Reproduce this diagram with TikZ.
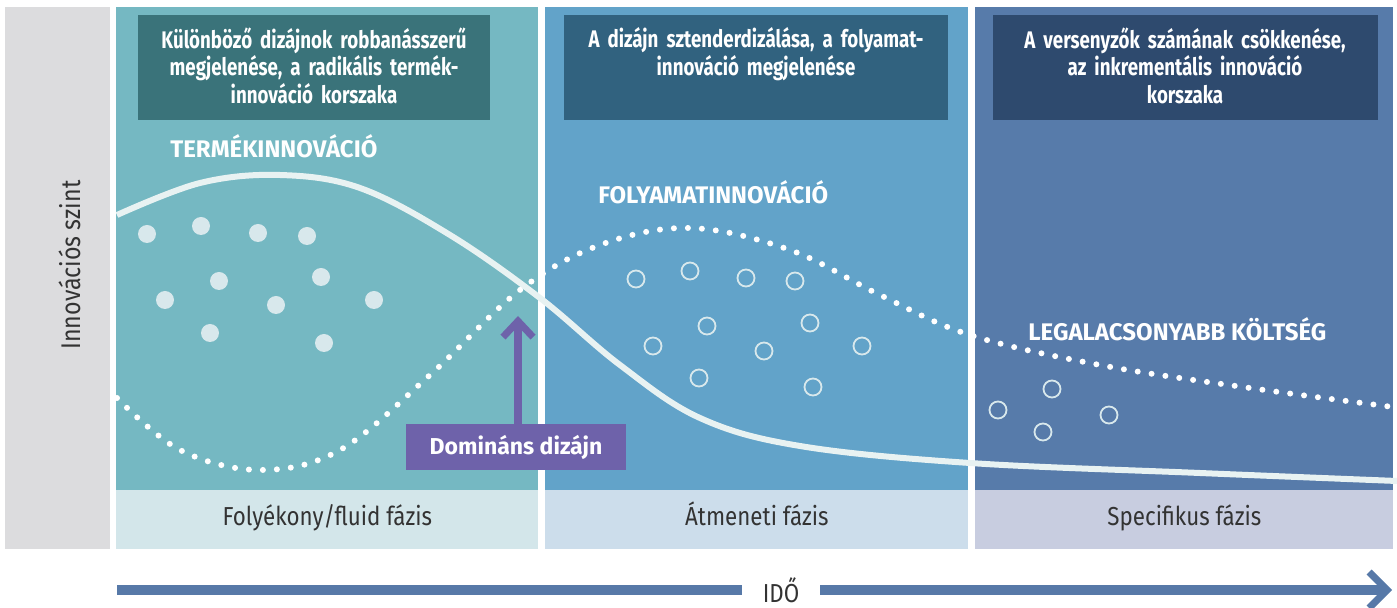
\documentclass[tikz,border=0pt]{standalone}
\usepackage{fontspec}
\setmainfont{Fira Sans}[FakeStretch=0.86]
\newfontfamily\headfont{Fira Sans}[FakeStretch=0.78]
\newfontfamily\capsfont{Fira Sans}
\usetikzlibrary{arrows.meta, positioning}

\definecolor{sidegrey}{HTML}{DCDCDE}
\definecolor{fluidbg}{HTML}{75B8C2}
\definecolor{fluidbar}{HTML}{D3E6EA}
\definecolor{transbg}{HTML}{62A3C9}
\definecolor{transbar}{HTML}{CCDDEB}
\definecolor{specbg}{HTML}{577BAA}
\definecolor{specbar}{HTML}{C8CDE0}
\definecolor{fluidhead}{HTML}{3A737A}
\definecolor{transhead}{HTML}{31627F}
\definecolor{spechead}{HTML}{2E4A6E}
\definecolor{dominant}{HTML}{6E62AA}
\definecolor{timeline}{HTML}{5779A8}
\definecolor{curvewhite}{HTML}{E8F2F2}
\definecolor{dotfill}{HTML}{D8E8EC}
\definecolor{bartext}{HTML}{333333}

\begin{document}
\begin{tikzpicture}[
    x=0.5pt, y=-0.5pt,
    panel/.style = {anchor=north west, inner sep=0pt, minimum height=241.5pt},
    phasebar/.style = {anchor=north west, inner sep=0pt, minimum height=29.5pt,
        text height=9pt, text depth=3pt,
        text=bartext, font=\fontsize{13}{15}\selectfont},
    headbox/.style = {anchor=north west, inner sep=0pt, minimum height=52.5pt,
        text=white, align=center, text depth=0pt,
        font=\headfont\bfseries\fontsize{12}{13.8}\selectfont},
    curveLabel/.style = {text=white, font=\capsfont\bfseries\fontsize{12}{14}\selectfont, inner sep=0pt},
    product/.style = {circle, fill=dotfill, minimum size=9pt, inner sep=0pt},
    process/.style = {circle, draw=dotfill, line width=0.9pt, minimum size=8.5pt, inner sep=0pt},
    timeArrow/.style = {timeline, line width=5pt},
]
\useasboundingbox (0,0) rectangle (1397,608);

% side column
\node(Side)[panel, fill=sidegrey, minimum width=52.5pt, minimum height=271pt] at (5,7) {};
\node(AxisLabel)[rotate=90, font=\fontsize{13.5}{15}\selectfont, text=bartext] at (70,265) {Innovációs szint};

% phase panels
\node(Fluid)[panel, fill=fluidbg, minimum width=211pt] at (116,7) {};
\node(Trans)[panel, fill=transbg, minimum width=211.5pt] at (545,7) {};
\node(Spec)[panel, fill=specbg, minimum width=209pt] at (975,7) {};

\node(FluidBar)[phasebar, fill=fluidbar, minimum width=211pt] at (116,490) {Folyékony/fluid fázis};
\node(TransBar)[phasebar, fill=transbar, minimum width=211.5pt] at (545,490) {Átmeneti fázis};
\node(SpecBar)[phasebar, fill=specbar, minimum width=209pt] at (975,490) {Specifikus fázis};

% headings
\node(FluidHead)[headbox, fill=fluidhead, minimum width=176pt] at (138,15) {};
\node[headbox, anchor=north, text width=172pt, minimum height=0pt] at (314,27)
    {Különböző dizájnok robbanásszerű\\ megjelenése, a radikális termék-\\ innováció korszaka};
\node(TransHead)[headbox, fill=transhead, minimum width=192pt] at (564,15) {};
\node[headbox, anchor=north, text width=188pt, minimum height=0pt] at (756,27)
    {A dizájn sztenderdizálása, a folyamat-\\ innováció megjelenése};
\node(SpecHead)[headbox, fill=spechead, minimum width=192.5pt] at (993,15) {};
\node[headbox, anchor=north, text width=188pt, minimum height=0pt] at (1185,27)
    {A versenyzők számának csökkenése,\\ az inkrementális innováció\\ korszaka};

% product innovation dots
\foreach \px/\py [count=\i] in {147/234, 201/226, 258/233, 307/236, 165/300, 219/281,
    276/305, 321/277, 374/300, 210/333, 324/343}
    \node(prod\i)[product] at (\px,\py) {};

% process innovation circles
\foreach \px/\py [count=\i] in {636/279, 690/271, 746/278, 795/281, 653/346, 707/326,
    764/351, 810/323, 862/346, 699/378, 813/387, 998/410, 1052/389, 1043/432, 1109/415}
    \node(proc\i)[process] at (\px,\py) {};

% curves
\draw[curvewhite, line width=3pt] plot[smooth, tension=0.6] coordinates {
    (117,215) (200,183) (280,175) (360,188) (450,235) (540,298) (620,365)
    (700,418) (800,446) (970,463) (1200,473) (1397,481)};
\draw[white, line width=3pt, line cap=round, dash pattern=on 0pt off 7pt]
    plot[smooth, tension=0.6] coordinates {
    (117,398) (180,450) (260,470) (340,450) (430,375) (520,290) (600,245)
    (690,228) (790,250) (880,295) (970,335) (1100,365) (1250,388) (1393,407)};

\node(TermLabel)[curveLabel, anchor=west] at (170,146) {TERMÉKINNOVÁCIÓ};
\node(ProcLabel)[curveLabel, anchor=west] at (598,192) {FOLYAMATINNOVÁCIÓ};
\node(CostLabel)[curveLabel, anchor=west] at (1028,329) {LEGALACSONYABB KÖLTSÉG};

% dominant design
\node(Dominant)[fill=dominant, text=white, minimum width=110pt, minimum height=23pt,
    font=\capsfont\bfseries\fontsize{11.5}{13}\selectfont, inner sep=0pt] at (516,447) {Domináns dizájn};
\coordinate(Cross) at (518,316);
\draw[dominant, line width=4pt, -{Straight Barb[length=8pt, width=15pt, line width=3.5pt]}]
    (Dominant.north -| Cross) -- (Cross);

% time axis
\node(Time)[font=\fontsize{13}{15}\selectfont, text=bartext, minimum width=39pt] at (781,590) {IDŐ};
\coordinate(TimeStart) at (117,590);
\coordinate(TimeEnd) at (1392,590);
\draw[timeArrow] (TimeStart) -- (Time.west);
\draw[timeArrow, -{Straight Barb[length=9pt, width=18pt, line width=3.5pt]}] (Time.east) -- (TimeEnd);

\end{tikzpicture}
\end{document}
